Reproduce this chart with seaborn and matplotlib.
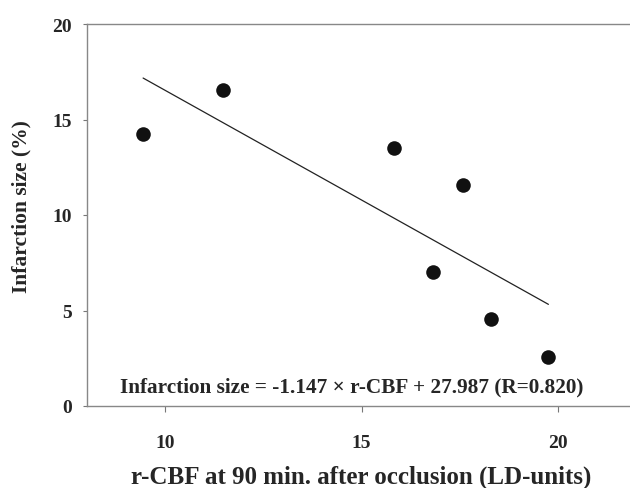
import numpy as np
import pandas as pd
import matplotlib
matplotlib.use("Agg")
import matplotlib.pyplot as plt
import seaborn as sns

# Data
rcbf = [9.43, 11.46, 15.82, 17.58, 16.82, 18.30, 19.76]
infarct = [14.24, 16.56, 13.49, 11.57, 7.00, 4.55, 2.55]
slope = -1.147
intercept = 27.987
r_value = 0.820
x_ticks = [10, 15, 20]
y_ticks = [0, 5, 10, 15, 20]

sns.set_theme(style="white")
plt.rcParams['font.family'] = ['Liberation Serif', 'DejaVu Serif']
plt.rcParams['font.weight'] = 'bold'

fig = plt.figure(figsize=(6.30, 4.89), dpi=100)
ax = fig.add_axes([87/630, 1 - 407/489, (630 - 87)/630 + 0.01, (407 - 25)/489])

df = pd.DataFrame({"x": rcbf, "y": infarct})
sns.scatterplot(data=df, x="x", y="y", ax=ax, s=110, color="#111111",
                edgecolor="#111111", linewidth=0, zorder=3)

xl = np.array([min(rcbf), max(rcbf)])
line_df = pd.DataFrame({"x": xl, "y": slope * xl + intercept})
sns.lineplot(data=line_df, x="x", y="y", ax=ax, color="#222222", linewidth=0.9)

ax.set_xlim(8, 22)
ax.set_ylim(0, 20)
ax.set_xticks(x_ticks)
ax.set_yticks(y_ticks)
ax.set_xticklabels([str(t) for t in x_ticks], fontsize=14, fontweight='bold')
ax.set_yticklabels([str(t) for t in y_ticks], fontsize=14, fontweight='bold')
ax.tick_params(axis='x', direction='out', length=4, width=0.8, color='#777777', pad=16, bottom=True)
ax.tick_params(axis='y', direction='out', length=3, width=0.8, color='#777777', pad=8, left=True)

for side in ['left', 'bottom', 'top']:
    ax.spines[side].set_visible(True)
    ax.spines[side].set_color('#888888')
    ax.spines[side].set_linewidth(1.0)
ax.spines['right'].set_visible(False)

ax.set_xlabel("r-CBF at 90 min. after occlusion (LD-units)", fontsize=18,
              fontweight='bold', labelpad=10)
ax.set_ylabel("Infarction size (%)", fontsize=15.5, fontweight='bold')
ax.yaxis.set_label_coords(-0.101, 0.526)

ax.text(14.75, 1.0,
        f"Infarction size = {slope:.3f} \u00d7 r-CBF + {intercept:.3f} (R={r_value:.3f})",
        ha='center', va='center', fontsize=15.3, fontweight='bold')

fig.savefig("out.png", dpi=100)
